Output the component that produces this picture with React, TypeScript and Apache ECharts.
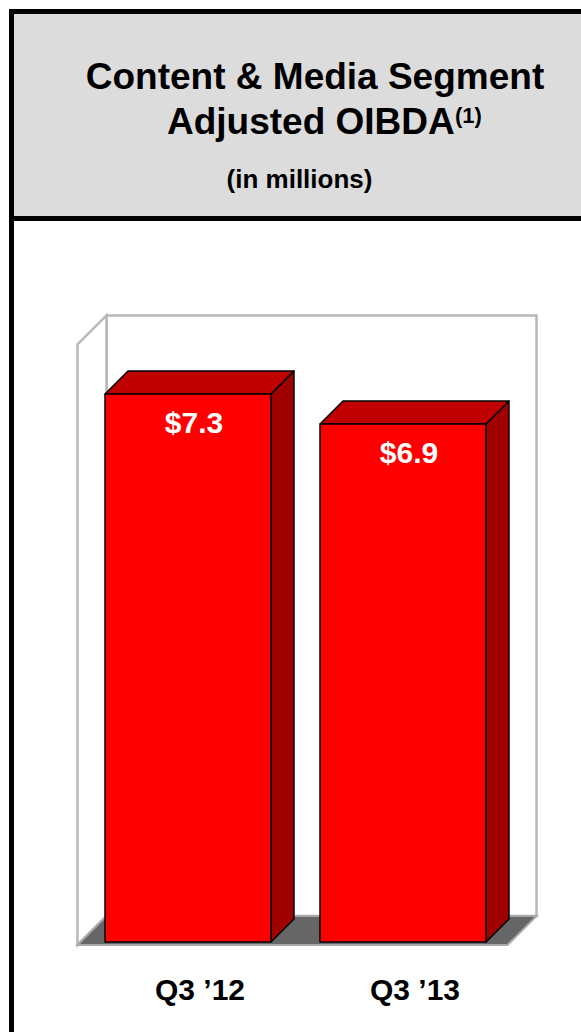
import React, { useEffect, useRef } from "react";
import * as echarts from "echarts";

const categories = ["Q3 ’12", "Q3 ’13"];
const values = [7.3, 6.9];
const valueLabels = ["$7.3", "$6.9"];
const yMin = 0;
const yMax = 8;

const FONT = '"Liberation Sans", Arial, Helvetica, sans-serif';

const BAR_DEPTH = 23;
const BOX_DEPTH = 29;
const FRONT_INSET = 3;
const BAR_RATIO = 0.772;

export default function App() {
  const ref = useRef<HTMLDivElement>(null);

  useEffect(() => {
    if (!ref.current) return;
    const chart = echarts.init(ref.current, null, { renderer: "svg" });

    const renderBox = (params: any) => {
      const cs = params.coordSys;
      const fl = cs.x - FRONT_INSET;
      const fr = cs.x + cs.width - FRONT_INSET;
      const ft = cs.y + FRONT_INSET;
      const fb = cs.y + cs.height + FRONT_INSET;
      const bl = fl + BOX_DEPTH;
      const br = fr + BOX_DEPTH;
      const bt = ft - BOX_DEPTH;
      const bb = fb - BOX_DEPTH;
      const wallStroke = "#b8b8b8";
      return {
        type: "group",
        children: [
          {
            type: "rect",
            shape: { x: bl, y: bt, width: br - bl, height: bb - bt },
            style: { fill: "#ffffff", stroke: wallStroke, lineWidth: 2.5 },
          },
          {
            type: "polygon",
            shape: { points: [[fl, ft], [bl, bt], [bl, bb], [fl, fb]] },
            style: { fill: "#ffffff", stroke: wallStroke, lineWidth: 2.5 },
          },
          {
            type: "polygon",
            shape: { points: [[fl, fb], [fr, fb], [br, bb], [bl, bb]] },
            style: { fill: "#666666", stroke: "#a8a8a8", lineWidth: 2 },
          },
        ],
      };
    };

    const renderBar = (params: any, api: any) => {
      const idx = api.value(0);
      const val = api.value(1);
      const topPt = api.coord([idx, val]);
      const basePt = api.coord([idx, yMin]);
      const band = api.size([1, 0])[0];
      const w = band * BAR_RATIO;
      const L = topPt[0] - w / 2;
      const R = topPt[0] + w / 2;
      const T = topPt[1];
      const B = basePt[1];
      const d = BAR_DEPTH;
      const edge = { stroke: "#000000", lineWidth: 1.5, lineJoin: "round" };
      return {
        type: "group",
        children: [
          {
            type: "polygon",
            shape: { points: [[R, T], [R + d, T - d], [R + d, B - d], [R, B]] },
            style: { fill: "#a00000", ...edge },
          },
          {
            type: "polygon",
            shape: { points: [[L, T], [L + d, T - d], [R + d, T - d], [R, T]] },
            style: { fill: "#c00000", ...edge },
          },
          {
            type: "rect",
            shape: { x: L, y: T, width: R - L, height: B - T },
            style: { fill: "#ff0000", ...edge },
          },
          {
            type: "text",
            style: {
              text: valueLabels[params.dataIndex],
              x: topPt[0] + 6,
              y: T + 29,
              textAlign: "center",
              textVerticalAlign: "middle",
              align: "center",
              verticalAlign: "middle",
              fill: "#ffffff",
              font: `bold 30px ${FONT}`,
            },
          },
        ],
      };
    };

    const option: any = {
      animation: false,
      backgroundColor: "#ffffff",
      grid: { left: 80.5, right: 70.5, top: 341.4, bottom: 90 },
      xAxis: {
        type: "category",
        data: categories,
        axisLine: { show: false },
        axisTick: { show: false },
        splitLine: { show: false },
        axisLabel: {
          color: "#000000",
          fontFamily: FONT,
          fontWeight: "bold",
          fontSize: 30,
          margin: 32,
          padding: [0, 0, 0, 24],
        },
      },
      yAxis: { type: "value", min: yMin, max: yMax, show: false },
      series: [
        { type: "custom", z: 1, silent: true, data: [[0, 0]], renderItem: renderBox },
        {
          type: "custom",
          z: 2,
          data: values.map((v, i) => [i, v]),
          renderItem: renderBar,
        },
      ],
      graphic: [
        { type: "rect", shape: { x: 14, y: 14, width: 567, height: 202 }, style: { fill: "#dcdcdc" } },
        { type: "rect", shape: { x: 9, y: 9, width: 572, height: 5 }, style: { fill: "#000000" } },
        { type: "rect", shape: { x: 9, y: 9, width: 5, height: 1023 }, style: { fill: "#000000" } },
        { type: "rect", shape: { x: 9, y: 216, width: 572, height: 5 }, style: { fill: "#000000" } },
        {
          type: "text",
          style: {
            text: "Content & Media Segment",
            x: 315,
            y: 76,
            textAlign: "center",
            textVerticalAlign: "middle",
            fill: "#000000",
            font: `bold 37px ${FONT}`,
          },
        },
        {
          type: "text",
          style: {
            text: "Adjusted OIBDA",
            x: 167,
            y: 121,
            textAlign: "left",
            textVerticalAlign: "middle",
            fill: "#000000",
            font: `bold 37px ${FONT}`,
          },
        },
        {
          type: "text",
          style: {
            text: "(1)",
            x: 455,
            y: 115,
            textAlign: "left",
            textVerticalAlign: "middle",
            fill: "#000000",
            font: `bold 22px ${FONT}`,
          },
        },
        {
          type: "text",
          style: {
            text: "(in millions)",
            x: 299.5,
            y: 179,
            textAlign: "center",
            textVerticalAlign: "middle",
            fill: "#000000",
            font: `bold 26px ${FONT}`,
          },
        },
      ],
    };

    chart.setOption(option);
    return () => chart.dispose();
  }, []);

  return (
    <div
      ref={ref}
      style={{ position: "fixed", left: 0, top: 0, width: 581, height: 1032, background: "#ffffff" }}
    />
  );
}
